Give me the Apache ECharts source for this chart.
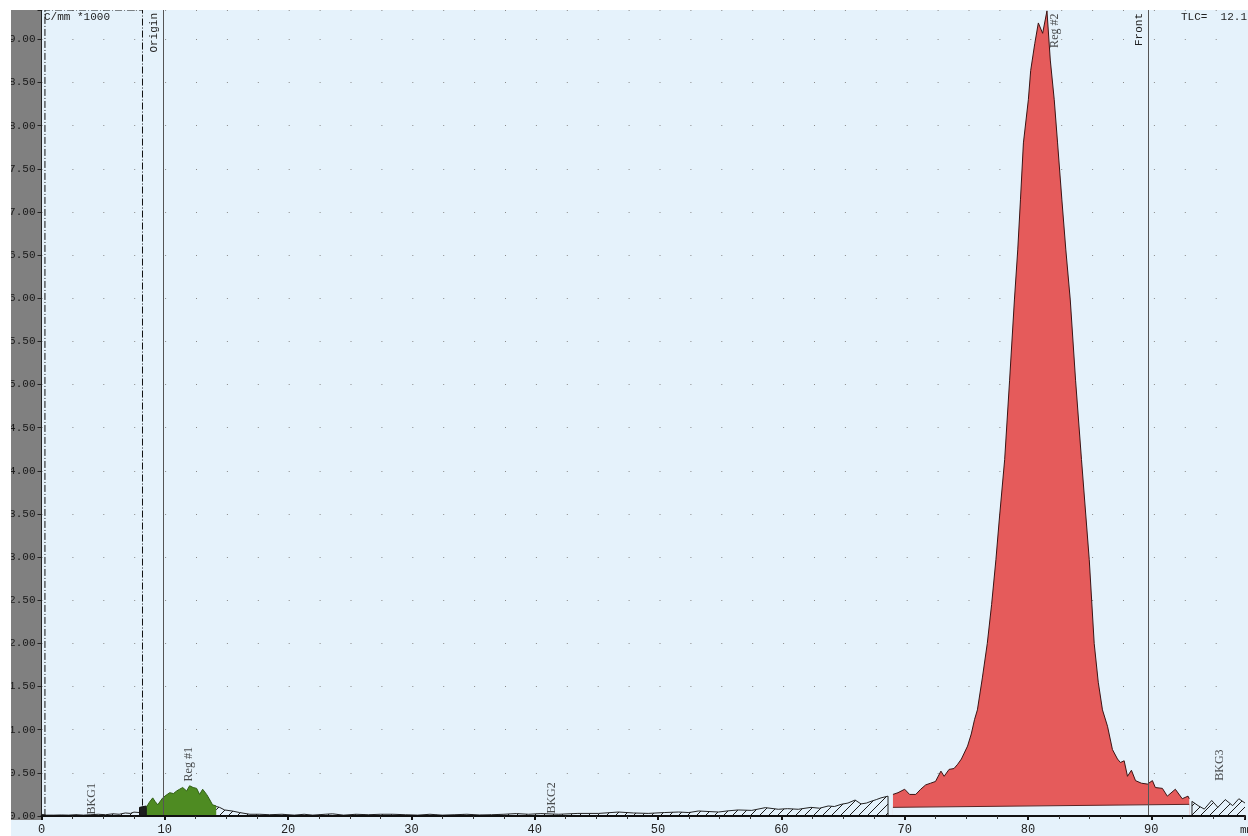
<!DOCTYPE html>
<html><head><meta charset="utf-8">
<script src="https://cdn.jsdelivr.net/npm/echarts@6/dist/echarts.min.js"></script>
<style>html,body{margin:0;padding:0;background:#fff}#chart{width:1248px;height:836px}</style>
</head><body><div id="chart"></div>
<script>
// ---- data (x in mm, y in counts/mm ×1000) ----
const xTickStep = 10;
const yTickStep = 0.5;
const X_MAX = 97.6;
const Y_MAX = 9.34;
const originPos = 9.85;
const frontPos = 89.74;
const scanBox = [0.28, 8.19];
const unitText = 'C/mm *1000';
const tlcText = 'TLC=  12.1';
const xUnit = 'mm';

const bkg1 = [[0,0.02],[0.4,0.01],[1,0.01],[1.6,0.012],[2.2,0.01],[2.8,0.015],[3.4,0.01],[4,0.015],[4.6,0.02],[5.2,0.015],[5.8,0.025],[6.3,0.02],[6.8,0.035],[7.2,0.03],[7.5,0.045],[7.95,0.04]];
const blackBlock = [[7.95,0],[7.95,0.10],[8.5,0.116],[8.5,0]];
const reg1 = [[8.5,0.10],[8.75,0.16],[9.02,0.21],[9.2,0.17],[9.43,0.13],[9.83,0.21],[10.1,0.24],[10.4,0.27],[10.7,0.26],[10.96,0.29],[11.2,0.31],[11.45,0.33],[11.77,0.29],[12.01,0.35],[12.3,0.33],[12.58,0.32],[12.82,0.25],[13.07,0.31],[13.39,0.25],[13.6,0.2],[13.87,0.13],[14.17,0.116]];
const bkg2 = [[14.17,0.11],[14.44,0.10],[14.85,0.07],[15.5,0.057],[16.06,0.04],[16.9,0.02],[17.7,0.02],[18.5,0.015],[19.5,0.02],[20.5,0.01],[21.3,0.02],[22,0.01],[23,0.02],[23.6,0.025],[24.5,0.01],[25.5,0.02],[26.5,0.015],[27.5,0.02],[28.5,0.02],[29.5,0.015],[30.5,0.01],[31.5,0.02],[32.5,0.01],[33.5,0.015],[34.5,0.02],[35.5,0.012],[36.5,0.015],[37.5,0.02],[38.5,0.028],[39.5,0.02],[40.5,0.028],[41.95,0.02],[43.5,0.03],[45.19,0.03],[46.8,0.046],[48,0.035],[49.2,0.03],[50.5,0.04],[51.66,0.046],[52.5,0.04],[53.28,0.058],[54.9,0.046],[55.7,0.06],[56.5,0.07],[57.6,0.065],[58.7,0.097],[59.75,0.078],[60.5,0.085],[61.37,0.078],[62.4,0.10],[63.1,0.09],[63.8,0.116],[64.3,0.11],[64.85,0.135],[65.4,0.15],[65.98,0.185],[66.46,0.14],[66.9,0.15],[67.27,0.17],[67.7,0.19],[68.08,0.21],[68.65,0.23],[68.65,0]];
const reg2 = [[69.05,0.25],[69.46,0.27],[70.0,0.31],[70.4,0.25],[70.9,0.25],[71.3,0.31],[71.7,0.36],[72.1,0.38],[72.5,0.40],[72.94,0.52],[73.2,0.46],[73.6,0.54],[74.0,0.55],[74.3,0.60],[74.6,0.66],[75.1,0.81],[75.4,0.95],[75.67,1.12],[75.9,1.23],[76.3,1.6],[76.7,2.0],[77.05,2.45],[77.4,2.97],[77.67,3.43],[78.11,4.13],[78.51,5.05],[78.9,5.98],[79.17,6.56],[79.39,7.14],[79.63,7.80],[80.03,8.30],[80.22,8.64],[80.55,8.95],[80.84,9.19],[81.19,9.07],[81.54,9.33],[81.81,8.76],[82.13,8.30],[82.4,7.80],[82.75,7.14],[83.07,6.56],[83.43,5.98],[83.86,5.05],[84.34,4.13],[84.97,2.97],[85.37,2.0],[85.7,1.55],[86.04,1.23],[86.45,1.04],[86.85,0.77],[87.26,0.66],[87.5,0.62],[87.66,0.60],[87.8,0.64],[88.07,0.46],[88.39,0.53],[88.72,0.41],[89.2,0.38],[89.69,0.37],[90.09,0.41],[90.33,0.33],[90.9,0.32],[91.3,0.23],[91.95,0.31],[92.51,0.20],[92.98,0.23],[93.08,0.20]];
const reg2Baseline = [[69.05,0.10],[93.08,0.135]];
const bkg3 = [[93.3,0],[93.3,0.17],[93.8,0.12],[94.3,0.08],[94.9,0.18],[95.4,0.10],[96.0,0.19],[96.6,0.12],[97.1,0.20],[97.6,0.15]];
const regionLabels = [
  {name:'BKG1', value:[4.05,0.20]},
  {name:'Reg #1', value:[11.93,0.60]},
  {name:'BKG2', value:[41.4,0.21]},
  {name:'Reg #2', value:[82.2,9.10]},
  {name:'BKG3', value:[95.6,0.59]}
];

// ---- styles ----
const BG = '#e5f2fb';
const MONO = 'Liberation Mono';
function hatchTile(){
  const c = document.createElement('canvas'); c.width = 9; c.height = 9;
  const g = c.getContext('2d'); g.strokeStyle = '#1a1a1a'; g.lineWidth = 1;
  g.beginPath(); g.moveTo(-1,10); g.lineTo(10,-1); g.moveTo(-2,2); g.lineTo(2,-2); g.moveTo(7,11); g.lineTo(11,7); g.stroke();
  return c;
}
const hatch = {image: hatchTile(), repeat: 'repeat'};

function areaSeries(name, data, fill, lineColor, z){
  return {name, type:'line', data, symbol:'none', showSymbol:false, smooth:false, animation:false,
    lineStyle:{color:lineColor, width:1}, areaStyle:{color:fill, opacity:1, origin:0}, z:z||2};
}

const chart = echarts.init(document.getElementById('chart'), null, {renderer:'canvas'});
chart.setOption({
  backgroundColor: BG,
  animation:false,
  grid:{left:41.5, right:0, top:10, bottom:19.3, containLabel:false},
  xAxis:{type:'value', min:0, max:X_MAX, interval:xTickStep, z:10,
    axisLine:{show:true, lineStyle:{color:'#111', width:2}},
    axisTick:{show:true, length:4, lineStyle:{color:'#111', width:2}},
    minorTick:{show:true, splitNumber:4, length:3, lineStyle:{color:'#333', width:1}},
    splitLine:{show:false},
    axisLabel:{margin:8, color:'#222', fontFamily:MONO, fontSize:12,
      formatter:v => (Math.abs(v % xTickStep) < 1e-6 ? String(v) : '')}
  },
  yAxis:{type:'value', min:0, max:Y_MAX, interval:yTickStep,
    axisLine:{show:true, lineStyle:{color:'#222', width:1}},
    axisTick:{show:true, length:4, lineStyle:{color:'#222'}},
    splitLine:{show:true, lineStyle:{color:'#8a8a8a', width:1, type:[1, 29.9]}},
    axisLabel:{margin:6, color:'#1a1a1a', fontFamily:MONO, fontSize:11,
      formatter:v => (Math.abs((v / yTickStep) - Math.round(v / yTickStep)) < 1e-6 ? v.toFixed(2) : '')}
  },
  graphic:[
    {type:'rect', z:-1, shape:{x:11, y:10, width:30.5, height:810}, style:{fill:'#808080'}},
    {type:'rect', z:100, shape:{x:0, y:0, width:11, height:836}, style:{fill:'#ffffff'}},
    {type:'rect', z:100, shape:{x:0, y:0, width:1248, height:10}, style:{fill:'#ffffff'}},
    {type:'text', z:50, left:44, top:12, style:{text:unitText, font:'11px "Liberation Mono"', fill:'#222'}},
    {type:'text', z:50, left:1181, top:12, style:{text:tlcText, font:'11px "Liberation Mono"', fill:'#222'}},
    {type:'text', z:50, left:1240, top:825, style:{text:xUnit, font:'11px "Liberation Mono"', fill:'#222'}}
  ],
  series:[
    areaSeries('BKG1', bkg1, hatch, '#222'),
    areaSeries('block', blackBlock, '#1e1e1e', '#111'),
    areaSeries('Reg #1', reg1, '#4e8b22', '#2f5e12'),
    areaSeries('BKG2', bkg2, hatch, '#222'),
    areaSeries('Reg #2', reg2, '#e55b5b', '#3a1414'),
    areaSeries('baseline', reg2Baseline, BG, '#5a2424', 3),
    areaSeries('BKG3', bkg3, hatch, '#222'),
    {name:'labels', type:'scatter', data:regionLabels, symbolSize:0, z:5, animation:false,
      label:{show:true, formatter:p => p.name, rotate:90, position:'inside', align:'center', verticalAlign:'middle',
        fontFamily:'Liberation Serif', fontSize:12, color:'#222'},
      markLine:{symbol:'none', silent:true, animation:false,
        lineStyle:{color:'#555', width:1, type:'solid'},
        label:{show:true, position:'insideEndTop', distance:3, fontFamily:MONO, fontSize:11, color:'#222', formatter:p => p.name},
        data:[
          [{name:'Origin', coord:[originPos, 0]}, {coord:[originPos, Y_MAX]}],
          [{name:'Front', coord:[frontPos, 0]}, {coord:[frontPos, Y_MAX]}]
        ]},
      markArea:{silent:true, animation:false,
        itemStyle:{color:'rgba(0,0,0,0)', borderColor:'#111', borderWidth:1, borderType:[7,2,1,2]},
        data:[[{coord:[scanBox[0], 0]}, {coord:[scanBox[1], Y_MAX]}]]}
    }
  ]
});
</script></body></html>
